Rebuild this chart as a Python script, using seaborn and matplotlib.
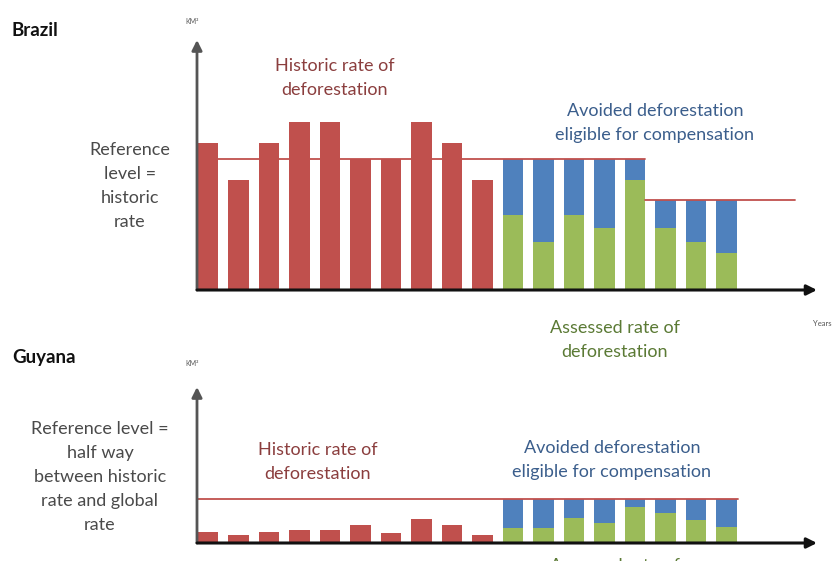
import matplotlib
matplotlib.use("Agg")
import matplotlib.pyplot as plt
import seaborn as sns
import pandas as pd

sns.set_theme(style="white")
plt.rcParams['font.family'] = ['Lato', 'DejaVu Sans']

# ---------------- data ----------------
years = [f"Y{i+1}" for i in range(18)]
hist_years = years[:10]
assess_years = years[10:]

brazil_historic = [147, 110, 147, 168, 168, 131, 131, 168, 147, 110]
brazil_assessed = [75, 48, 75, 62, 110, 62, 48, 37]
brazil_reference = [131, 131, 131, 131, 131, 90, 90, 90]

guyana_historic = [11, 8, 11, 13, 13, 18, 10, 24, 18, 8]
guyana_assessed = [15, 15, 25, 20, 36, 30, 23, 16]
guyana_reference = [44, 44, 44, 44, 44, 44, 44, 44]

RED = "#C0504D"
BLUE = "#4F81BD"
GREEN = "#9BBB59"

W, H = 837, 561
fig = plt.figure(figsize=(W / 100, H / 100), dpi=100)

X0, X1 = 197, 817
SP = 30.5
C0 = 208


def px_ax(left, right, bottom, top):
    return fig.add_axes([left / W, 1 - bottom / H, (right - left) / W, (bottom - top) / H])


def xdata(px):
    return (px - C0) / SP


def panel(ax, hist, assessed, ref, ymax):
    df_h = pd.DataFrame({"year": hist_years, "v": hist})
    df_r = pd.DataFrame({"year": assess_years, "v": ref})
    df_a = pd.DataFrame({"year": assess_years, "v": assessed})
    kw = dict(order=years, width=0.656, saturation=1, ax=ax, edgecolor="none")
    sns.barplot(data=df_h, x="year", y="v", color=RED, **kw)
    sns.barplot(data=df_r, x="year", y="v", color=BLUE, **kw)
    sns.barplot(data=df_a, x="year", y="v", color=GREEN, **kw)
    ax.set_xlim(xdata(X0), xdata(X1))
    ax.set_ylim(0, ymax)
    ax.set_axis_off()
    ax.set_xlabel("")
    ax.set_ylabel("")


# Brazil
axb = px_ax(X0, X1, 290, 40)
panel(axb, brazil_historic, brazil_assessed, brazil_reference, 250)
axb.plot([xdata(X0), xdata(645)], [131, 131], color=RED, lw=1.3, zorder=5)
axb.plot([xdata(645), xdata(795)], [90, 90], color=RED, lw=1.3, zorder=5)

# Guyana
axg = px_ax(X0, X1, 543, 387)
panel(axg, guyana_historic, guyana_assessed, guyana_reference, 156)
axg.plot([xdata(X0), xdata(738)], [44, 44], color=RED, lw=1.3, zorder=5)

# axes arrows
for ax in (axb, axg):
    ax.annotate("", xy=(0, 1.0), xytext=(0, 0), xycoords="axes fraction",
                arrowprops=dict(arrowstyle="-|>,head_width=0.25,head_length=0.5",
                                color="#555555", lw=2.0, shrinkA=0, shrinkB=0), zorder=6)
    ax.annotate("", xy=(1.0, 0), xytext=(0, 0), xycoords="axes fraction",
                arrowprops=dict(arrowstyle="-|>,head_width=0.25,head_length=0.5",
                                color="#111111", lw=2.2, shrinkA=0, shrinkB=0), zorder=6)


def ftext(x, y, s, **kw):
    fig.text(x / W, 1 - y / H, s, **kw)


GRAY = "#4a4a4a"
DRED = "#8B3E3E"
DBLUE = "#3B5E8C"
DGREEN = "#5B7A35"
fs = 13
ls = 1.6

ftext(12, 30, "Brazil", fontsize=13.5, fontweight="bold", color="#111111", va="center")
ftext(192, 22, "KM²", fontsize=5, color="#555555", ha="center", va="center")
ftext(335, 78, "Historic rate of\ndeforestation", fontsize=fs, color=DRED, ha="center",
      va="center", linespacing=ls)
ftext(130, 186, "Reference\nlevel =\nhistoric\nrate", fontsize=fs, color=GRAY, ha="center",
      va="center", linespacing=ls)
ftext(655, 123, "Avoided deforestation\neligible for compensation", fontsize=fs, color=DBLUE,
      ha="center", va="center", linespacing=ls)
ftext(615, 340, "Assessed rate of\ndeforestation", fontsize=fs, color=DGREEN, ha="center",
      va="center", linespacing=ls)
ftext(822, 323, "Years", fontsize=5.5, color="#555555", ha="center", va="center")

ftext(12, 358, "Guyana", fontsize=13.5, fontweight="bold", color="#111111", va="center")
ftext(192, 364, "KM²", fontsize=5, color="#555555", ha="center", va="center")
ftext(100, 477, "Reference level =\nhalf way\nbetween historic\nrate and global\nrate",
      fontsize=fs, color=GRAY, ha="center", va="center", linespacing=ls)
ftext(318, 462, "Historic rate of\ndeforestation", fontsize=fs, color=DRED, ha="center",
      va="center", linespacing=ls)
ftext(612, 460, "Avoided deforestation\neligible for compensation", fontsize=fs, color=DBLUE,
      ha="center", va="center", linespacing=ls)
ftext(615, 566, "Assessed rate of", fontsize=fs, color=DGREEN, ha="center", va="center")

fig.savefig("out.png", dpi=100, facecolor="white")
